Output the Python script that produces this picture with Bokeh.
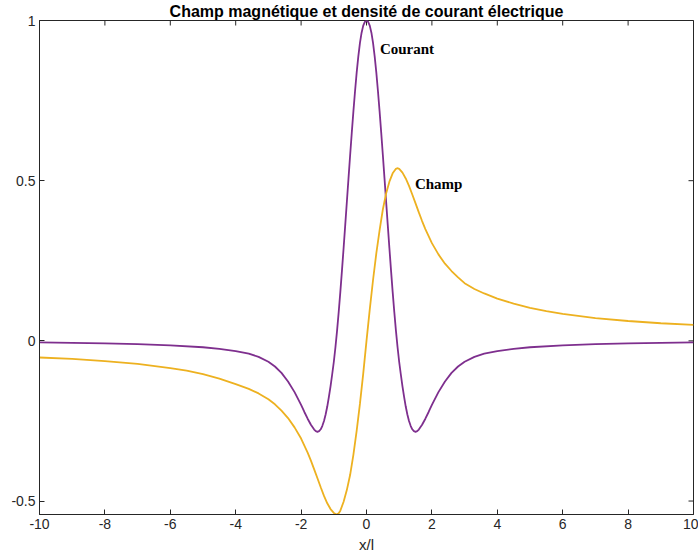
import math
from bokeh.plotting import figure
from bokeh.models import Range1d, FixedTicker, Label
from bokeh.embed import file_html
from bokeh.resources import INLINE

# ---- data ----
courant_x = [-10, -9, -8, -7, -6, -5, -4.5, -4, -3.6, -3.3, -3.0, -2.8, -2.6, -2.4, -2.2, -2.0,
             -1.9, -1.8, -1.7, -1.6, -1.55, -1.5, -1.45, -1.4, -1.35, -1.3, -1.25, -1.2, -1.15,
             -1.1, -1.05, -1.0, -0.95, -0.9, -0.85, -0.8, -0.75, -0.7, -0.65, -0.6, -0.55, -0.5,
             -0.45, -0.4, -0.35, -0.3, -0.25, -0.2, -0.15, -0.1, -0.05,
             0,
             0.05, 0.1, 0.15, 0.2, 0.25, 0.3, 0.35, 0.4, 0.45, 0.5, 0.55, 0.6, 0.65, 0.7, 0.75,
             0.8, 0.85, 0.9, 0.95, 1.0, 1.05, 1.1, 1.15, 1.2, 1.25, 1.3, 1.35, 1.4, 1.45, 1.5,
             1.55, 1.6, 1.7, 1.8, 1.9, 2.0, 2.2, 2.4, 2.6, 2.8, 3.0, 3.3, 3.6, 4, 4.5, 5, 6, 7,
             8, 9, 10]
courant_y = [-0.005, -0.006, -0.008, -0.010, -0.014, -0.020, -0.025, -0.032, -0.040, -0.050,
             -0.065, -0.080, -0.100, -0.127, -0.160, -0.200, -0.222, -0.243, -0.262, -0.277,
             -0.282, -0.284, -0.282, -0.276, -0.265, -0.250, -0.230, -0.205, -0.175, -0.142,
             -0.105, -0.066, -0.020, 0.032, 0.090, 0.153, 0.220, 0.290, 0.362, 0.435, 0.508,
             0.580, 0.650, 0.717, 0.780, 0.838, 0.888, 0.930, 0.962, 0.984, 0.996,
             1.000,
             0.996, 0.984, 0.962, 0.930, 0.888, 0.838, 0.780, 0.717, 0.650, 0.580, 0.508, 0.435,
             0.362, 0.290, 0.220, 0.153, 0.090, 0.032, -0.020, -0.066, -0.105, -0.142, -0.175,
             -0.205, -0.230, -0.250, -0.265, -0.276, -0.282, -0.284, -0.282, -0.277, -0.262,
             -0.243, -0.222, -0.200, -0.160, -0.127, -0.100, -0.080, -0.065, -0.050, -0.040,
             -0.032, -0.025, -0.020, -0.014, -0.010, -0.008, -0.006, -0.005]

champ_x = [-10, -9, -8, -7, -6, -5.5, -5, -4.5, -4, -3.6, -3.3, -3.0, -2.8, -2.6, -2.4, -2.2,
           -2.0, -1.8, -1.7, -1.6, -1.5, -1.4, -1.3, -1.2, -1.1, -1.0, -0.92, -0.85, -0.8,
           -0.7, -0.6, -0.5, -0.4, -0.3, -0.2, -0.1,
           0,
           0.1, 0.2, 0.3, 0.4, 0.5, 0.6, 0.7, 0.8, 0.9, 0.94, 1.0, 1.1, 1.2, 1.3, 1.4, 1.5, 1.6,
           1.7, 1.8, 2.0, 2.2, 2.4, 2.6, 2.8, 3.0, 3.3, 3.6, 4.0, 4.5, 5.0, 5.5, 6.0, 7.0, 8.0,
           9.0, 10]
champ_y = [-0.052, -0.056, -0.063, -0.072, -0.085, -0.093, -0.104, -0.118, -0.135, -0.150,
           -0.164, -0.182, -0.198, -0.218, -0.241, -0.270, -0.305, -0.349, -0.374, -0.401,
           -0.429, -0.457, -0.484, -0.507, -0.525, -0.537, -0.542, -0.538, -0.530, -0.502,
           -0.465, -0.418, -0.355, -0.280, -0.196, -0.102,
           0.0,
           0.098, 0.190, 0.273, 0.345, 0.410, 0.460, 0.497, 0.523, 0.537, 0.539, 0.537, 0.525,
           0.507, 0.484, 0.457, 0.429, 0.401, 0.374, 0.349, 0.305, 0.270, 0.241, 0.218, 0.198,
           0.180, 0.162, 0.148, 0.132, 0.116, 0.103, 0.093, 0.084, 0.071, 0.062, 0.055, 0.050]

x_ticks = [-10, -8, -6, -4, -2, 0, 2, 4, 6, 8, 10]
x_tick_labels = ["-10", "-8", "-6", "-4", "-2", "0", "2", "4", "6", "8", "10"]
y_ticks = [-0.5, 0, 0.5, 1]
y_tick_labels = ["-0.5", "0", "0.5", "1"]
x_limits = [-10, 10]
y_limits = [-0.542, 1.0]

title_text = "Champ magnétique et densité de courant électrique"
x_label = "x/l"

PURPLE = "#7E2F8E"
ORANGE = "#EDB120"
AXC = "#262626"

p = figure(width=698, height=555, x_range=Range1d(*x_limits), y_range=Range1d(*y_limits),
           output_backend="svg", toolbar_location=None, title=title_text)
p.min_border_left = 39
p.min_border_right = 5
p.min_border_top = 0
p.min_border_bottom = 41
p.grid.visible = False
p.outline_line_color = AXC
p.outline_line_alpha = 1.0
p.outline_line_width = 1

p.title.align = "center"
p.title.text_font = "Liberation Sans"
p.title.text_font_style = "bold"
p.title.text_font_size = "16px"
p.title.text_color = "black"
p.title.standoff = 1

p.xaxis.ticker = FixedTicker(ticks=x_ticks)
p.xaxis.major_label_overrides = {t: l for t, l in zip(x_ticks, x_tick_labels)}
p.yaxis.ticker = FixedTicker(ticks=y_ticks)
p.yaxis.major_label_overrides = {t: l for t, l in zip(y_ticks, y_tick_labels)}

p.xaxis.axis_label = x_label
p.xaxis.axis_label_text_font = "Liberation Sans"
p.xaxis.axis_label_text_font_style = "normal"
p.xaxis.axis_label_text_font_size = "15px"
p.xaxis.axis_label_text_color = AXC
p.xaxis.axis_label_standoff = 4

for ax in [p.xaxis[0], p.yaxis[0]]:
    ax.axis_line_color = AXC
    ax.major_tick_line_color = AXC
    ax.major_tick_in = 5
    ax.major_tick_out = 0
    ax.minor_tick_line_color = None
    ax.major_label_text_font = "Liberation Sans"
    ax.major_label_text_font_size = "14px"
    ax.major_label_text_color = AXC
    ax.major_label_standoff = 4

# box ticks on the top and right edges (half of each dash is clipped by the frame)
p.scatter(x_ticks, [y_limits[1]] * len(x_ticks), marker="dash", size=10,
          angle=math.pi / 2, line_color=AXC, line_width=1)
p.scatter([x_limits[1]] * len(y_ticks), y_ticks, marker="dash", size=10,
          line_color=AXC, line_width=1)

p.line(courant_x, courant_y, line_color=PURPLE, line_width=1.8)
p.line(champ_x, champ_y, line_color=ORANGE, line_width=1.8)

p.add_layout(Label(x=0.41, y=0.91, text="Courant", text_font="Liberation Serif",
                   text_font_style="bold", text_font_size="15px", text_color="black",
                   text_baseline="middle"))
p.add_layout(Label(x=1.48, y=0.49, text="Champ", text_font="Liberation Serif",
                   text_font_style="bold", text_font_size="15px", text_color="black",
                   text_baseline="middle"))

open("out.html", "w").write(file_html(p, INLINE))
